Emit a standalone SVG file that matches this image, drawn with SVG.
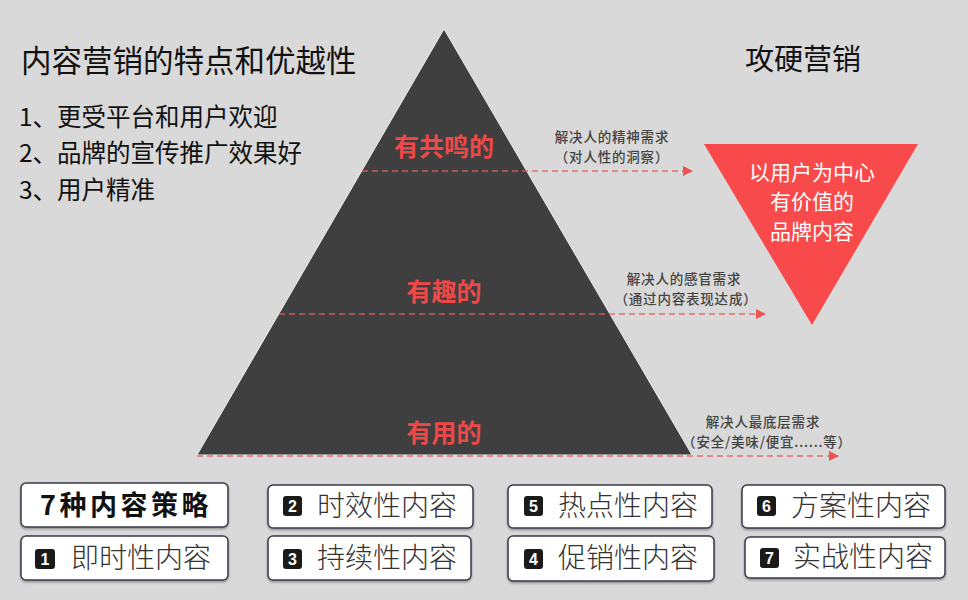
<svg xmlns="http://www.w3.org/2000/svg" width="968" height="600" viewBox="0 0 968 600">
<defs>
<marker id="arr" markerWidth="10" markerHeight="10" refX="9" refY="5" orient="auto" markerUnits="userSpaceOnUse">
<path d="M0,0 L10,5 L0,10 Z" fill="#f03c3c"/>
</marker>
<filter id="sh" x="-5%" y="-10%" width="110%" height="130%">
<feDropShadow dx="0" dy="1.5" stdDeviation="1" flood-color="#000" flood-opacity="0.35"/>
</filter>
</defs>
<style>
.cjk{font-family:"Noto Sans CJK SC","Noto Sans",sans-serif}
.h1{font-size:30.5px;fill:#111}
.li{font-size:24.5px;fill:#111}
.lvl{font-size:25px;font-weight:bold;fill:#f04848;text-anchor:middle}
.note{font-size:13.5px;fill:#444;text-anchor:middle;font-weight:500;letter-spacing:0.8px}
.tri{font-size:21px;fill:#fff;text-anchor:middle}
.box{fill:#fff;stroke:#3a3a4a;stroke-width:1.5}
.bt{font-size:28px;fill:#333;font-weight:300}
.badge{fill:#1a1a1a}
.bn{font-family:"Liberation Sans",sans-serif;font-size:16px;font-weight:bold;fill:#fff;text-anchor:middle}
.dash{stroke:#e85c5c;stroke-width:1.5;stroke-dasharray:6 4;fill:none;opacity:0.85}
</style>
<rect width="968" height="600" fill="#d9d9d9"/>

<g id="left-title" class="cjk">
<text class="h1" x="21" y="72">内容营销的特点和优越性</text>
<text class="li" x="19" y="126">1、更受平台和用户欢迎</text>
<text class="li" x="19" y="162">2、品牌的宣传推广效果好</text>
<text class="li" x="19" y="199">3、用户精准</text>
</g>

<g id="right-title" class="cjk">
<text x="803" y="70" font-size="29" fill="#111" text-anchor="middle">攻硬营销</text>
</g>

<g id="pyramid">
<polygon points="444,29 197,455 692,455" fill="#3f3f3f" stroke="#ececec" stroke-width="1"/>
<g class="cjk">
<text class="lvl" x="444" y="156">有共鸣的</text>
<text class="lvl" x="444" y="301">有趣的</text>
<text class="lvl" x="444" y="442">有用的</text>
</g>
</g>

<g id="connectors">
<line class="dash" x1="362" y1="171" x2="692" y2="171" marker-end="url(#arr)"/>
<line class="dash" x1="279" y1="314" x2="765" y2="314" marker-end="url(#arr)"/>
<line class="dash" x1="197" y1="456" x2="838" y2="456" marker-end="url(#arr)"/>
</g>

<g id="note1" class="cjk">
<text class="note" x="612" y="142">解决人的精神需求</text>
<text class="note" x="612" y="162">（对人性的洞察）</text>
</g>
<g id="note2" class="cjk">
<text class="note" x="684" y="284">解决人的感官需求</text>
<text class="note" x="686" y="304">（通过内容表现达成）</text>
</g>
<g id="note3" class="cjk">
<text class="note" x="763" y="427">解决人最底层需求</text>
<text class="note" x="767" y="447">（安全/美味/便宜......等）</text>
</g>

<g id="brand-triangle">
<polygon points="704,144 918,144 812,325" fill="#f84a4a"/>
<g class="cjk">
<text class="tri" x="812" y="180">以用户为中心</text>
<text class="tri" x="812" y="209">有价值的</text>
<text class="tri" x="812" y="239">品牌内容</text>
</g>
</g>

<g id="box-title">
<rect class="box" x="21" y="483" width="207" height="44" rx="5" filter="url(#sh)"/>
<text class="cjk" x="126" y="515" font-size="27" font-weight="bold" fill="#111" text-anchor="middle" letter-spacing="3.5">7种内容策略</text>
</g>
<g id="box1">
<rect class="box" x="21" y="536" width="207" height="44" rx="5" filter="url(#sh)"/>
<rect class="badge" x="35" y="549" width="20" height="20" rx="3"/>
<text class="bn" x="45" y="565">1</text>
<text class="cjk bt" x="71" y="568">即时性内容</text>
</g>
<g id="box2">
<rect class="box" x="268" y="485" width="205" height="43" rx="5" filter="url(#sh)"/>
<rect class="badge" x="283" y="496" width="19" height="20" rx="3"/>
<text class="bn" x="292.5" y="512">2</text>
<text class="cjk bt" x="317" y="516">时效性内容</text>
</g>
<g id="box3">
<rect class="box" x="268" y="536" width="203" height="44" rx="5" filter="url(#sh)"/>
<rect class="badge" x="283" y="549" width="19" height="20" rx="3"/>
<text class="bn" x="292.5" y="565">3</text>
<text class="cjk bt" x="317" y="568">持续性内容</text>
</g>
<g id="box5">
<rect class="box" x="508" y="485" width="204" height="43" rx="5" filter="url(#sh)"/>
<rect class="badge" x="524" y="496" width="19" height="20" rx="3"/>
<text class="bn" x="533.5" y="512">5</text>
<text class="cjk bt" x="558" y="516">热点性内容</text>
</g>
<g id="box4">
<rect class="box" x="508" y="536" width="206" height="45" rx="5" filter="url(#sh)"/>
<rect class="badge" x="524" y="549" width="19" height="20" rx="3"/>
<text class="bn" x="533.5" y="565">4</text>
<text class="cjk bt" x="558" y="568">促销性内容</text>
</g>
<g id="box6">
<rect class="box" x="742" y="485" width="203" height="43" rx="5" filter="url(#sh)"/>
<rect class="badge" x="757" y="496" width="19" height="20" rx="3"/>
<text class="bn" x="766.5" y="512">6</text>
<text class="cjk bt" x="791" y="516">方案性内容</text>
</g>
<g id="box7">
<rect class="box" x="745" y="537" width="200" height="41" rx="5" filter="url(#sh)"/>
<rect class="badge" x="760" y="548" width="19" height="20" rx="3"/>
<text class="bn" x="769.5" y="564">7</text>
<text class="cjk bt" x="793" y="567">实战性内容</text>
</g>
</svg>
